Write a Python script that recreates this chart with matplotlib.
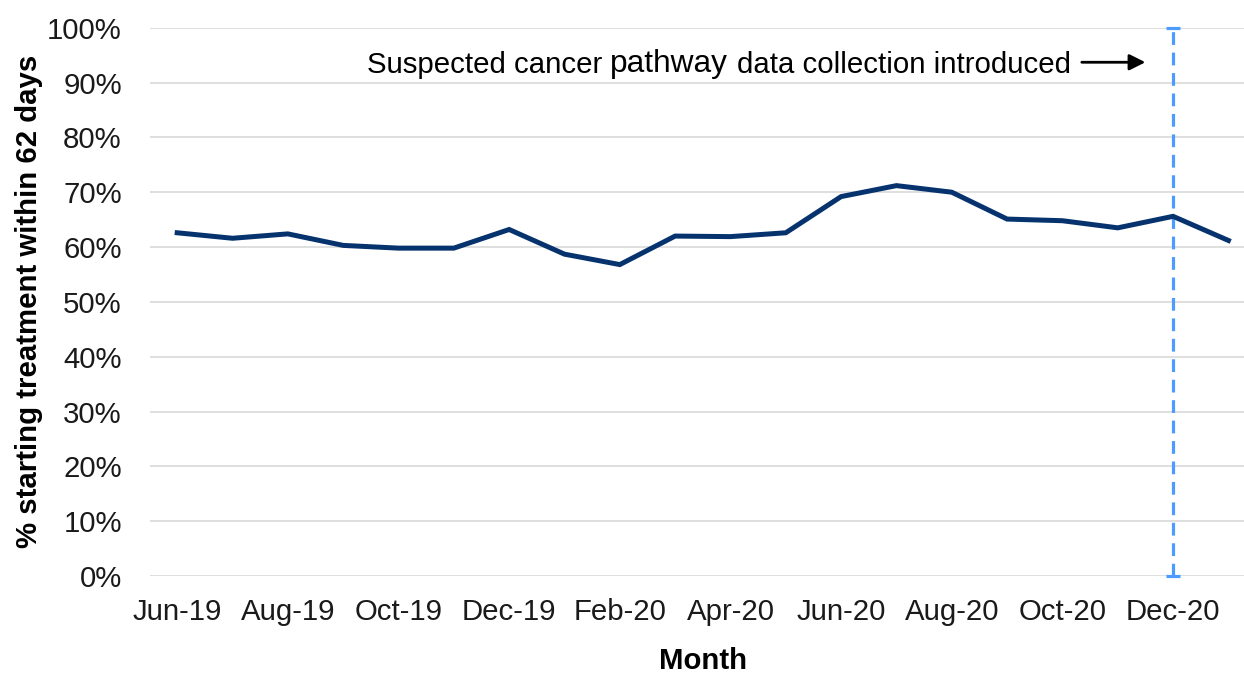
import matplotlib.pyplot as plt

plt.rcParams['font.family'] = ['Liberation Sans', 'DejaVu Sans']

## data
months = ['Jun-19', 'Jul-19', 'Aug-19', 'Sep-19', 'Oct-19', 'Nov-19', 'Dec-19',
          'Jan-20', 'Feb-20', 'Mar-20', 'Apr-20', 'May-20', 'Jun-20', 'Jul-20',
          'Aug-20', 'Sep-20', 'Oct-20', 'Nov-20', 'Dec-20', 'Jan-21']
pct_62_days = [62.6, 61.6, 62.4, 60.3, 59.8, 59.8, 63.2,
               58.7, 56.8, 62.0, 61.9, 62.6, 69.2, 71.2,
               70.0, 65.1, 64.8, 63.5, 65.6, 61.2]
y_ticks = [0, 10, 20, 30, 40, 50, 60, 70, 80, 90, 100]
marker_month = 'Dec-20'

fs = 21.2
x = list(range(len(months)))
fig = plt.figure(figsize=(12.44, 6.76), dpi=100)
ax = fig.add_axes([0.1202, 0.1479, 0.8895, 0.8111])

ax.plot(x, pct_62_days, color='#06336e', lw=3.6, solid_joinstyle='miter', zorder=3)

# vertical dashed marker line
mx = months.index(marker_month)
ax.plot([mx, mx], [0, 100], color='#4d9bff', lw=2.3, linestyle=(0, (4, 2.4)), zorder=2)
ax.plot([mx, mx], [0, 100], color='#4d9bff', lw=0, marker='_', markersize=10,
        markeredgewidth=2.3, zorder=2, clip_on=False)

ax.set_xlim(-0.5, len(months) - 0.5)
ax.set_ylim(0, 100)
ax.set_yticks(y_ticks)
ax.set_yticklabels([f'{v}%' for v in y_ticks])
ax.set_xticks(x[::2])
ax.set_xticklabels(months[::2])
ax.tick_params(axis='both', length=0, labelsize=fs, colors='#1a1a1a')
ax.tick_params(axis='y', pad=20)
ax.tick_params(axis='x', pad=16)

ax.grid(axis='y', color='#d9d9d9', lw=1.2)
ax.set_axisbelow(True)
for s in ax.spines.values():
    s.set_visible(False)

ax.set_ylabel('% starting treatment within 62 days', fontsize=fs, fontweight='bold', labelpad=3)
ax.set_xlabel('Month', fontsize=fs, fontweight='bold', labelpad=15)

# annotation with a bigger word in the middle
t1 = ax.text(3.43, 91.8, 'Suspected cancer', fontsize=fs, va='baseline', ha='left')
t2 = ax.annotate('pathway', xy=(1, 0), xycoords=t1, xytext=(5.9, 0),
                 textcoords='offset points', fontsize=22.8, va='bottom', ha='left')
t3 = ax.annotate('data collection introduced', xy=(1, 0), xycoords=t2, xytext=(6.2, 0),
                 textcoords='offset points', fontsize=fs, va='bottom', ha='left')
ax.annotate('', xy=(17.55, 93.7), xytext=(16.3, 93.7),
            arrowprops=dict(arrowstyle='-|>', color='black', lw=2, mutation_scale=24))

fig.savefig('out.png', dpi=100)
